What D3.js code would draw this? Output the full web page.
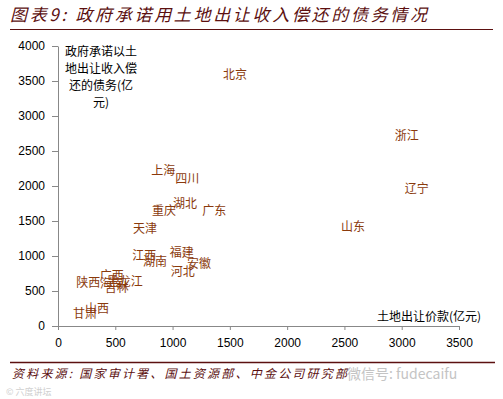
<!DOCTYPE html>
<html>
<head>
<meta charset="utf-8">
<script src="https://cdn.jsdelivr.net/npm/d3@7"></script>
<style>
  body { margin: 0; background: #fff; }
  svg { display: block; }
</style>
</head>
<body>
<div id="chart"></div>
<script>
// provinces, land sale revenue (x) vs. debt repaid with land revenue (y), 亿元
const provinces = ['北京', '浙江', '辽宁', '山东', '上海', '四川', '湖北', '重庆', '广东', '天津',
  '江西', '湖南', '福建', '安徽', '河北', '广西', '陕西', '海南', '吉林', '黑龙江', '甘肃', '山西'];
const landSales = [1545, 3043, 3131, 2575, 919, 1129, 1108, 925, 1364, 759,
  753, 847, 1080, 1231, 1088, 469, 264, 471, 512, 582, 236, 340];
const debtRepaid = [3600, 2729, 1967, 1419, 2219, 2110, 1761, 1657, 1657, 1396,
  1014, 919, 1053, 896, 790, 729, 624, 614, 561, 633, 181, 257];
const xTicks = [0, 500, 1000, 1500, 2000, 2500, 3000, 3500];
const yTicks = [0, 500, 1000, 1500, 2000, 2500, 3000, 3500, 4000];
const yTitle = ['政府承诺以土', '地出让收入偿', '还的债务(亿', '元)'];

const width = 503, height = 399;
const cjk = '"SimSun", "Noto Sans CJK SC", sans-serif';
const dark = '#5c1010';

const svg = d3.select('#chart').append('svg')
  .attr('width', width).attr('height', height);

const x = d3.scaleLinear().domain([0, 3500]).range([58, 459]);
const y = d3.scaleLinear().domain([0, 4000]).range([326, 46]);

// title
svg.append('text')
  .attr('x', 10).attr('y', 21)
  .attr('fill', dark)
  .attr('font-family', cjk)
  .attr('font-size', '17px')
  .attr('font-style', 'italic')
  .attr('textLength', 417)
  .text('图表9:  政府承诺用土地出让收入偿还的债务情况');

svg.append('line')
  .attr('x1', 10).attr('x2', 493).attr('y1', 29.5).attr('y2', 29.5)
  .attr('stroke', dark).attr('stroke-width', 1.2);

// axes
const yAxis = svg.append('g')
  .attr('transform', 'translate(58,0)')
  .call(d3.axisLeft(y).tickValues(yTicks).tickFormat(d3.format('d'))
    .tickSize(6).tickSizeOuter(0).tickPadding(7));

const xAxis = svg.append('g')
  .attr('transform', 'translate(0,326)')
  .call(d3.axisBottom(x).tickValues(xTicks).tickFormat(d3.format('d'))
    .tickSize(4).tickSizeOuter(0).tickPadding(8));

[xAxis, yAxis].forEach(g => {
  g.select('.domain').attr('stroke', '#888');
  g.selectAll('.tick line').attr('stroke', '#888');
  g.selectAll('.tick text')
    .attr('fill', '#000')
    .attr('font-family', 'Arial, "Liberation Sans", sans-serif')
    .attr('font-size', '12px');
});

// axis titles
svg.append('g').selectAll('text')
  .data(yTitle)
  .enter().append('text')
  .attr('x', 101)
  .attr('y', (d, i) => 56 + i * 17)
  .attr('text-anchor', 'middle')
  .attr('font-family', cjk)
  .attr('font-size', '12px')
  .attr('fill', '#000')
  .text(d => d);

svg.append('text')
  .attr('x', 481).attr('y', 321)
  .attr('text-anchor', 'end')
  .attr('font-family', cjk)
  .attr('font-size', '12px')
  .attr('fill', '#000')
  .text('土地出让价款(亿元)');

// data labels (markers hidden, as in the original)
const data = provinces.map((p, i) => ({ name: p, x: landSales[i], y: debtRepaid[i] }));

svg.selectAll('.label')
  .data(data)
  .enter().append('text')
  .attr('class', 'label')
  .attr('x', d => x(d.x))
  .attr('y', d => y(d.y))
  .attr('dy', '0.4em')
  .attr('text-anchor', 'middle')
  .attr('font-family', cjk)
  .attr('font-size', '12px')
  .attr('fill', '#8a3a0c')
  .text(d => d.name);

// footer
svg.append('line')
  .attr('x1', 10).attr('x2', 495).attr('y1', 362.5).attr('y2', 362.5)
  .attr('stroke', dark).attr('stroke-width', 1.5);

svg.append('text')
  .attr('x', 12).attr('y', 378)
  .attr('fill', dark)
  .attr('font-family', cjk)
  .attr('font-size', '12px')
  .attr('font-style', 'italic')
  .attr('textLength', 335)
  .text('资料来源:  国家审计署、国土资源部、中金公司研究部');

svg.append('text')
  .attr('x', 347).attr('y', 379)
  .attr('fill', '#c4c4c4')
  .attr('font-family', '"Noto Sans CJK SC", sans-serif')
  .attr('font-size', '14px')
  .text('微信号: fudecaifu');

svg.append('text')
  .attr('x', 6).attr('y', 395)
  .attr('fill', '#d0d0d0')
  .attr('font-family', '"Noto Sans CJK SC", sans-serif')
  .attr('font-size', '9px')
  .text('© 六度讲坛');
</script>
</body>
</html>
